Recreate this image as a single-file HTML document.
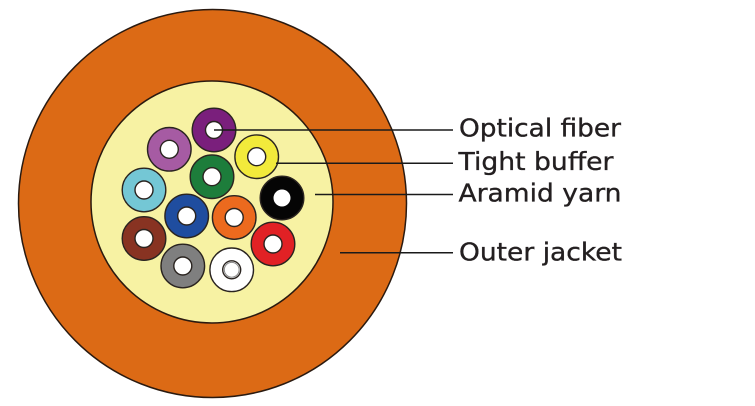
<!DOCTYPE html>
<html>
<head>
<meta charset="utf-8">
<style>
  html,body{margin:0;padding:0;background:#fff;}
  svg{display:block;}
  text{font-family:"DejaVu Sans","Liberation Sans",sans-serif;font-size:25px;fill:#231f20;stroke:#231f20;stroke-width:0.35px;}
</style>
</head>
<body>
<svg width="755" height="406" viewBox="0 0 755 406" xmlns="http://www.w3.org/2000/svg">
  <!-- outer jacket -->
  <circle cx="212.5" cy="203.5" r="194" fill="#dc6a15" stroke="#2a1a10" stroke-width="1.5"/>
  <!-- aramid yarn -->
  <circle cx="212" cy="202" r="121" fill="#f7f2a3" stroke="#2a1a10" stroke-width="1.5"/>

  <g stroke="#2a2420" stroke-width="1.4">
    <circle cx="214" cy="130" r="21.8" fill="#7a1f7c"/>
    <circle cx="214" cy="130" r="8.5" fill="#fff"/>
    <circle cx="169.3" cy="149.3" r="21.8" fill="#a65ba3"/>
    <circle cx="169.3" cy="149.3" r="9" fill="#fff"/>
    <circle cx="256.7" cy="156.7" r="21.8" fill="#f2ea3b"/>
    <circle cx="256.7" cy="156.7" r="9" fill="#fff"/>
    <circle cx="212" cy="176.7" r="21.8" fill="#1d7d3b"/>
    <circle cx="212" cy="176.7" r="9" fill="#fff"/>
    <circle cx="144" cy="190" r="21.8" fill="#74c7d5"/>
    <circle cx="144" cy="190" r="9" fill="#fff"/>
    <circle cx="282" cy="198" r="21.8" fill="#050505"/>
    <circle cx="282" cy="198" r="8.5" fill="#fff" stroke="none"/>
    <circle cx="186.7" cy="216" r="21.8" fill="#1f4d9f"/>
    <circle cx="186.7" cy="216" r="9" fill="#fff"/>
    <circle cx="234.2" cy="217.5" r="21.8" fill="#ec6a1e"/>
    <circle cx="234.2" cy="217.5" r="9" fill="#fff"/>
    <circle cx="144" cy="238.5" r="21.8" fill="#883322"/>
    <circle cx="144" cy="238.5" r="9" fill="#fff"/>
    <circle cx="273" cy="244" r="21.8" fill="#e12125"/>
    <circle cx="273" cy="244" r="9" fill="#fff"/>
    <circle cx="182.8" cy="266" r="21.8" fill="#7f7f7f"/>
    <circle cx="182.8" cy="266" r="9" fill="#fff"/>
    <circle cx="231.7" cy="269.8" r="21.8" fill="#ffffff"/>
    <circle cx="231.7" cy="269.8" r="9" fill="#fff" stroke="#2a2420" stroke-width="1.4"/>
    <circle cx="231.7" cy="269.8" r="7.4" fill="#fff" stroke="#8a8a8a" stroke-width="1"/>
  </g>

  <!-- leader lines -->
  <g stroke="#1a1a1a" stroke-width="1.5" fill="none">
    <line x1="214" y1="130" x2="453" y2="130"/>
    <line x1="276" y1="163.3" x2="453" y2="163.3"/>
    <line x1="315" y1="194.5" x2="453" y2="194.5"/>
    <line x1="340" y1="252.7" x2="453" y2="252.7"/>
  </g>

  <!-- labels -->
  <text x="459" y="136.7" textLength="162" lengthAdjust="spacingAndGlyphs">Optical fiber</text>
  <text x="458.5" y="170" textLength="155" lengthAdjust="spacingAndGlyphs">Tight buffer</text>
  <text x="458.5" y="201.7" textLength="163" lengthAdjust="spacingAndGlyphs">Aramid yarn</text>
  <text x="459" y="260.7" textLength="163" lengthAdjust="spacingAndGlyphs">Outer jacket</text>
</svg>
</body>
</html>
